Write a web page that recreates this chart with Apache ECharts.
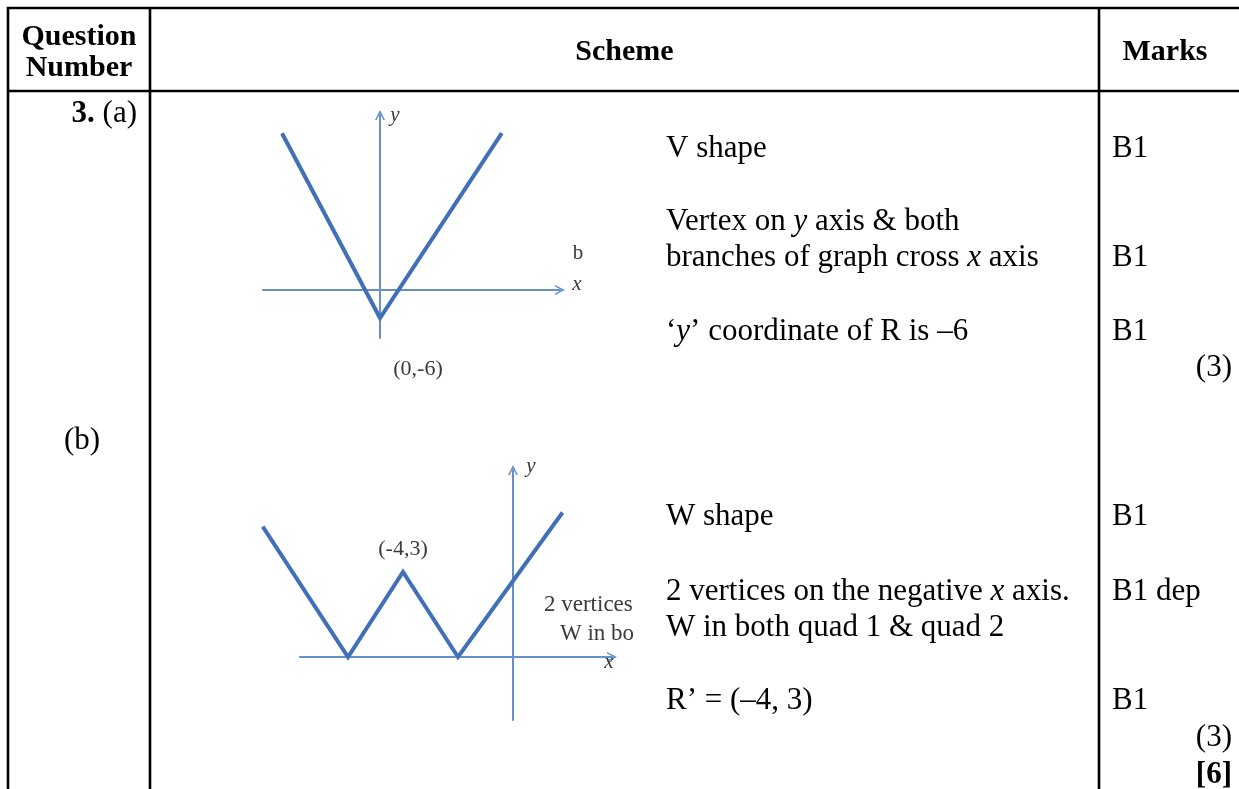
<!DOCTYPE html>
<html><head><meta charset="utf-8">
<script src="https://cdn.jsdelivr.net/npm/echarts@6/dist/echarts.min.js"></script>
<style>html,body{margin:0;padding:0;background:#fff}#c{width:1239px;height:789px}</style>
</head><body><div id="c"></div>
<script>
// ---- data ----
const headerCells = ['Question', 'Number', 'Scheme', 'Marks'];
const partLabels = ['{b|3.} (a)', '(b)'];
const schemeA = ['V shape', 'Vertex on {i|y} axis & both', 'branches of graph cross {i|x} axis', '‘{i|y}’ coordinate of R is –6'];
const marksA = ['B1', 'B1', 'B1', '(3)'];
const schemeB = ['W shape', '2 vertices on the negative {i|x} axis.', 'W in both quad 1 & quad 2', 'R’ = (–4, 3)'];
const marksB = ['B1', 'B1 dep', 'B1', '(3)', '{b|[6]}'];
// graph (a): V shape, vertex R = (0,-6)
const vX = [-21, 0, 26.1];
const vY = [33.6, -6, 33.6];
const vLabel = '(0,-6)';
// graph (b): W shape, vertices on negative x axis, peak (-4,3)
const wX = [-9.1, -6, -4, -2, 1.8];
const wY = [4.6, 0, 3, 0, 5.1];
const wLabel = '(-4,3)';
const graphAxisNames = ['x', 'y'];
const graphClipText = ['b', '2 vertices', 'W in bo'];

// ---- chart ----
const SERIF = '"Liberation Serif","Times New Roman",serif';
const BODY = 31, HEAD = 30;
const LINE_COLOR = '#4070b8', AXIS_COLOR = '#6590cb';
const chevron = 'path://M0,10 L5,0 L10,10 L8.4,10 L5,3.4 L1.6,10 Z';

function axis(gi, min, max, show) {
  return {
    type: 'value', gridIndex: gi, min: min, max: max, show: show,
    axisLine: { show: show, onZero: true, symbol: ['none', chevron], symbolSize: [12, 10],
      lineStyle: { color: AXIS_COLOR, width: 2 } },
    axisTick: { show: false }, axisLabel: { show: false }, splitLine: { show: false }
  };
}
const rich = {
  i: { fontStyle: 'italic', fontSize: BODY, fontFamily: SERIF, fill: '#000' },
  b: { fontWeight: 'bold', fontSize: BODY, fontFamily: SERIF, fill: '#000' }
};
function txt(text, x, y, o) {
  o = o || {};
  return { type: 'text', z: 10, style: {
    text: text, x: x, y: y,
    fontSize: o.size || BODY, fontFamily: SERIF,
    fontWeight: o.weight || 'normal', fontStyle: o.style || 'normal',
    fill: o.color || '#000', textAlign: o.align || 'left', textVerticalAlign: 'middle',
    align: o.align || 'left', verticalAlign: 'middle', rich: rich } };
}
function ln(x1, y1, x2, y2) {
  return { type: 'line', z: 10, shape: { x1: x1, y1: y1, x2: x2, y2: y2 },
    style: { stroke: '#000', lineWidth: 2.6 } };
}

const colL = 8, col1 = 150, col2 = 1099, rowTop = 8, headBot = 91;
const schemeX = 666, marksX = 1112, rightX = 1232;
const aText = [149, 222, 258, 332];
const aMarks = [149, 258, 332, 368];
const bText = [517, 592, 628, 701];
const bMarks = [517, 592, 701, 738, 775];

const g = [];
g.push(ln(colL - 1, rowTop, 1239, rowTop));
g.push(ln(colL - 1, headBot, 1239, headBot));
g.push(ln(colL, rowTop - 1, colL, 789));
g.push(ln(col1, rowTop - 1, col1, 789));
g.push(ln(col2, rowTop - 1, col2, 789));
// headers
g.push(txt(headerCells[0], (colL + col1) / 2, 37, { weight: 'bold', size: HEAD, align: 'center' }));
g.push(txt(headerCells[1], (colL + col1) / 2, 68, { weight: 'bold', size: HEAD, align: 'center' }));
g.push(txt(headerCells[2], (col1 + col2) / 2, 52, { weight: 'bold', size: HEAD, align: 'center' }));
g.push(txt(headerCells[3], 1165, 52, { weight: 'bold', size: HEAD, align: 'center' }));
// part labels
g.push(txt(partLabels[0], 137, 114, { align: 'right' }));
g.push(txt(partLabels[1], 82, 441, { align: 'center' }));
// scheme / marks
schemeA.forEach(function (s, k) { g.push(txt(s, schemeX, aText[k])); });
marksA.forEach(function (s, k) {
  if (k === 3) g.push(txt(s, rightX, aMarks[k], { align: 'right' }));
  else g.push(txt(s, marksX, aMarks[k]));
});
schemeB.forEach(function (s, k) { g.push(txt(s, schemeX, bText[k])); });
marksB.forEach(function (s, k) {
  if (k >= 3) g.push(txt(s, rightX, bMarks[k], { align: 'right' }));
  else g.push(txt(s, marksX, bMarks[k]));
});
// graph labels
const lc = '#3a3a3a';
g.push(txt(vLabel, 418, 369, { size: 22, color: lc, align: 'center' }));
g.push(txt(wLabel, 403, 549, { size: 22, color: lc, align: 'center' }));
g.push(txt(graphAxisNames[1], 395, 115, { size: 21, color: lc, style: 'italic', align: 'center' }));
g.push(txt(graphAxisNames[0], 577, 284, { size: 21, color: lc, style: 'italic', align: 'center' }));
g.push(txt(graphClipText[0], 578, 253, { size: 21, color: lc, align: 'center' }));
g.push(txt(graphAxisNames[1], 531, 466, { size: 21, color: lc, style: 'italic', align: 'center' }));
g.push(txt(graphAxisNames[0], 609, 662, { size: 21, color: lc, style: 'italic', align: 'center' }));
g.push(txt(graphClipText[1], 544, 605, { size: 23, color: lc }));
g.push(txt(graphClipText[2], 560, 634, { size: 23, color: lc }));

function zip(a, b) { return a.map(function (v, i) { return [v, b[i]]; }); }

const chart = echarts.init(document.getElementById('c'));
chart.setOption({
  animation: false,
  backgroundColor: '#fff',
  grid: [
    { left: 263, top: 115, width: 297, height: 223 },   // V graph
    { left: 300, top: 470, width: 312, height: 250 },   // W axes
    { left: 255, top: 470, width: 357, height: 250 }    // W curve (same scale, wider)
  ],
  xAxis: [axis(0, -25.07, 38.57, true), axis(1, -7.745, 3.6, true), axis(2, -9.382, 3.6, false)],
  yAxis: [axis(0, -10.29, 37.5, true), axis(1, -2.224, 6.6, true), axis(2, -2.224, 6.6, false)],
  series: [
    { type: 'line', xAxisIndex: 0, yAxisIndex: 0, data: zip(vX, vY), symbol: 'none', clip: false,
      lineStyle: { color: LINE_COLOR, width: 4, join: 'miter' } },
    { type: 'line', xAxisIndex: 2, yAxisIndex: 2, data: zip(wX, wY), symbol: 'none', clip: false,
      lineStyle: { color: LINE_COLOR, width: 4, join: 'miter' } }
  ],
  graphic: g
});
</script></body></html>
